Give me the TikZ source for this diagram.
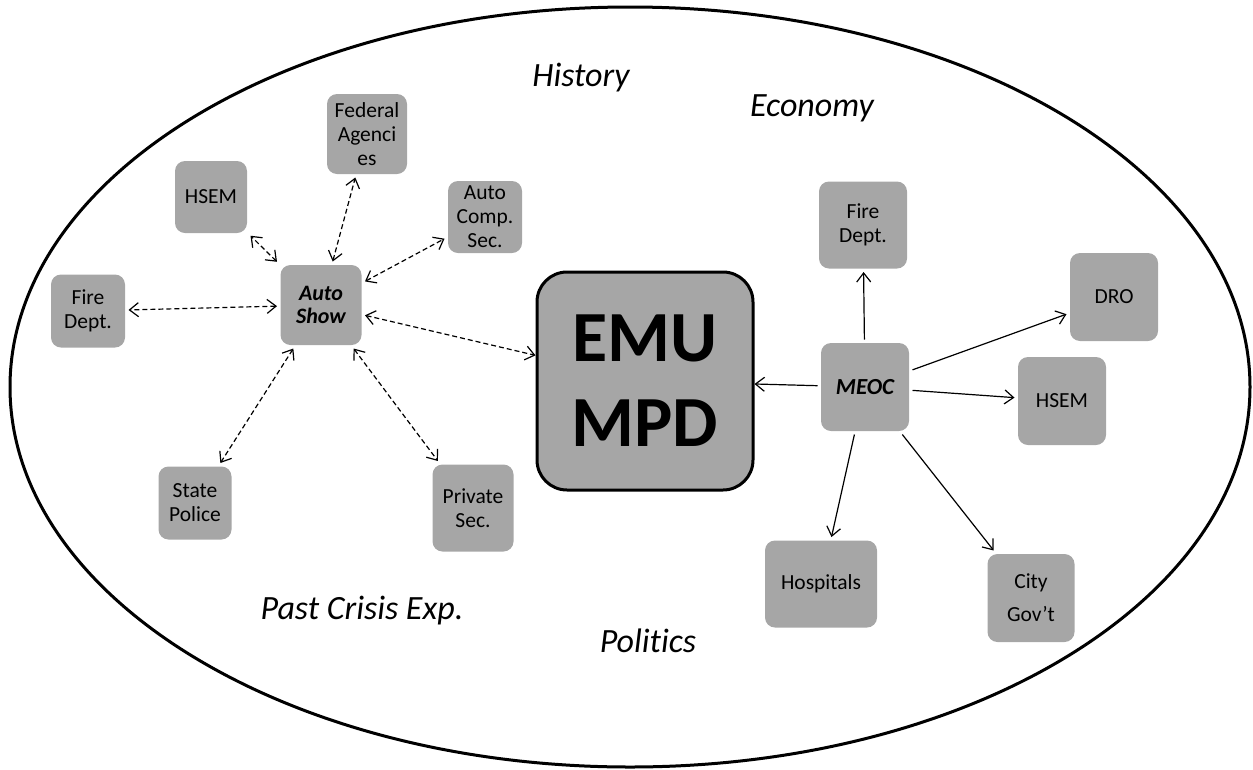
\documentclass[tikz,border=0pt]{standalone}
\usepackage{fontspec}
\setmainfont{Carlito}[Ligatures={NoCommon}]
\usetikzlibrary{arrows.meta}

\definecolor{boxgray}{HTML}{A6A6A6}

\begin{document}
\begin{tikzpicture}[x=1pt,y=-1pt,line join=bevel,
  box/.style={fill=boxgray,rounded corners=10pt,inner sep=0pt,outer sep=3.5pt,
    align=center,font=\fontsize{21.5}{24}\selectfont},
  hub/.style={box,font=\fontsize{22}{23}\selectfont\bfseries\itshape},
  factor/.style={font=\fontsize{34}{40}\selectfont\itshape},
  link/.style={line width=1.2pt,dash pattern=on 5pt off 3pt,
    {Straight Barb[length=9pt,width=14pt]}-{Straight Barb[length=9pt,width=14pt]}},
  order/.style={line width=1.2pt,-{Straight Barb[length=9pt,width=14pt]}}]
%%
\useasboundingbox (0,0) rectangle (1253,769);
\draw [line width=3pt] (630,387) ellipse [x radius=620pt, y radius=380pt];
  \node (fac_history) at (581,78) [factor] {History};
  \node (fac_economy) at (812,108) [factor] {Economy};
  \node (fac_past) at (362,611) [factor] {Past Crisis Exp.};
  \node (fac_politics) at (648,641) [factor] {Politics};
  \node (box_emu) at (645,381) [box,draw,line width=3pt,rounded corners=30pt,outer sep=1.5pt,
    minimum width=216,minimum height=218,font=\fontsize{72}{85}\selectfont\bfseries] {EMU\\MPD};
  \node (box_show) at (321,305) [hub,minimum width=81,minimum height=80] {Auto\\Show};
  \node (box_fed) at (367,134) [box,minimum width=80,minimum height=80] {Federal\\Agenci\\es};
  \node (box_hsem_l) at (211,197) [box,minimum width=72,minimum height=72] {HSEM};
  \node (box_comp) at (485,217) [box,minimum width=74,minimum height=72] {Auto\\Comp.\\Sec.};
  \node (box_fire_l) at (88,311) [box,minimum width=74,minimum height=73] {Fire\\Dept.};
  \node (box_state) at (195,503) [box,minimum width=73,minimum height=73] {State\\Police};
  \node (box_priv) at (473,508) [box,minimum width=81,minimum height=87] {Private\\Sec.};
  \node (box_meoc) at (865,387) [hub,minimum width=88,minimum height=88,font=\fontsize{23}{24}\selectfont\bfseries\itshape] {MEOC};
  \node (box_fire_r) at (863,225) [box,minimum width=88,minimum height=87] {Fire\\Dept.};
  \node (box_dro) at (1114,297) [box,minimum width=88,minimum height=88] {DRO};
  \node (box_hsem_r) at (1062,401) [box,minimum width=88,minimum height=88] {HSEM};
  \node (box_hosp) at (821,584) [box,minimum width=112,minimum height=87] {Hospitals};
  \node (box_city) at (1031,598) [box,minimum width=87,minimum height=88] {City\\[9pt]Gov’t};
  \draw [link] (box_show) -- (box_fed);
  \draw [link] (box_show) -- (box_hsem_l);
  \draw [link] (box_show) -- (box_comp);
  \draw [link] (box_show) -- (box_fire_l);
  \draw [link] (box_show) -- (box_state);
  \draw [link] (box_show) -- (box_priv);
  \draw [link] (box_show) -- (box_emu);
  \draw [order] (box_meoc) -- (box_emu);
  \draw [order] (box_meoc) -- (box_fire_r);
  \draw [order] (box_meoc) -- (box_dro);
  \draw [order] (box_meoc) -- (box_hsem_r);
  \draw [order] (box_meoc) -- (box_hosp);
  \draw [order] (box_meoc) -- (box_city);
%
\end{tikzpicture}
\end{document}
